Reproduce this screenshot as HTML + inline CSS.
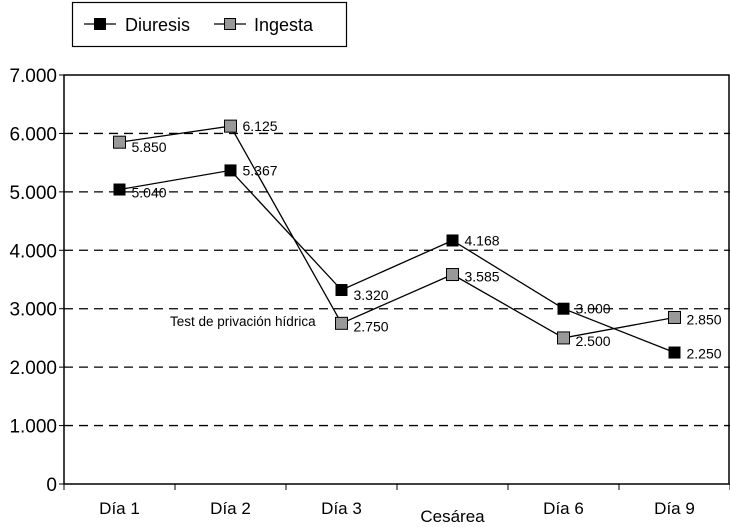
<!DOCTYPE html>
<html><head><meta charset="utf-8"><style>
body{margin:0;background:#fff;}
svg{display:block;font-family:"Liberation Sans",Arial,sans-serif;}
</style></head><body>
<svg id="chart" width="730" height="527">
<g>
<rect x="72.5" y="2.5" width="274" height="44" fill="#fff" stroke="#000" stroke-width="1.2"/>
<line x1="84" y1="24" x2="116" y2="24" stroke="#000" stroke-width="1.3"/>
<rect x="94" y="18" width="12" height="12" fill="#000"/>
<text x="125" y="31" font-size="18">Diuresis</text>
<line x1="214" y1="24" x2="246" y2="24" stroke="#000" stroke-width="1.3"/>
<rect x="224.5" y="18.5" width="11" height="11" fill="#999" stroke="#000"/>
<text x="254" y="31" font-size="18">Ingesta</text>
</g>
<g id="grid"></g>
<g id="axes"></g>
<g id="series"></g>
<text x="170" y="326" font-size="13.5">Test de privación hídrica</text>
</svg>
<script>
const categories=["Día 1","Día 2","Día 3","Cesárea","Día 6","Día 9"];
const diuresis=[5040,5367,3320,4168,3000,2250];
const ingesta=[5850,6125,2750,3585,2500,2850];
const diuresisLabels=["5.040","5.367","3.320","4.168","3.000","2.250"];
const ingestaLabels=["5.850","6.125","2.750","3.585","2.500","2.850"];
const yTicks=[0,1000,2000,3000,4000,5000,6000,7000];
const yTickLabels=["0","1.000","2.000","3.000","4.000","5.000","6.000","7.000"];
const NS="http://www.w3.org/2000/svg";
const X0=64,X1=730,Y0=484,Y1=75,YMAX=7000;
const bw=(X1-X0)/categories.length;
const xs=i=>X0+bw*(i+0.5);
const ys=v=>Y0-(v/YMAX)*(Y0-Y1);
function mk(tag,attrs,parent,txt){const e=document.createElementNS(NS,tag);for(const k in attrs)e.setAttribute(k,attrs[k]);if(txt!==undefined)e.textContent=txt;parent.appendChild(e);return e;}
const grid=document.getElementById('grid'),axes=document.getElementById('axes'),series=document.getElementById('series');
yTicks.forEach((t,i)=>{
  const y=ys(t);
  if(t>0&&t<YMAX){const l=mk('line',{x1:X0,x2:X1,y1:y,y2:y,stroke:'#000','stroke-width':1.3,'stroke-dasharray':'9,6'},grid);
  
  }
  mk('line',{x1:X0-5,x2:X0,y1:y,y2:y,stroke:'#000'},axes);
  const tx=mk('text',{x:X0-7,y:y+7,'font-size':19,'text-anchor':'end'},axes,yTickLabels[i]);
  
  
});
mk('rect',{x:X0,y:Y1,width:X1-X0-1,height:Y0-Y1,fill:'none',stroke:'#000','stroke-width':1.5},axes);
categories.forEach((c,i)=>{
  const xb=X0+bw*(i+1);
  mk('line',{x1:xb,x2:xb,y1:Y0,y2:Y0+6,stroke:'#000'},axes);
  if(i===0)mk('line',{x1:X0,x2:X0,y1:Y0,y2:Y0+6,stroke:'#000'},axes);
  const tx=mk('text',{x:xs(i),y:c==="Cesárea"?Y0+38:Y0+30,'font-size':17,'text-anchor':'middle'},axes,c);
  
  
});
function drawSeries(vals,labels,fill,name,offs){
  const pts=vals.map((v,i)=>xs(i)+','+ys(v)).join(' ');
  const pl=mk('polyline',{points:pts,fill:'none',stroke:'#000','stroke-width':1.3},series);
  
  
  vals.forEach((v,i)=>{
    const r=mk('rect',{x:xs(i)-6,y:ys(v)-6,width:12,height:12,fill:fill,stroke:'#000','stroke-width':fill==='#000'?0:1},series);
    
    
    const t=mk('text',{x:xs(i)+12,y:ys(v)+offs[i],'font-size':14},series,labels[i]);
    
    
  });
}
drawSeries(ingesta,ingestaLabels,'#999','ingesta',[10,5,8,7,8,7]);
drawSeries(diuresis,diuresisLabels,'#000','diuresis',[8,5,10,5,5,6]);
</script>
</body></html>
